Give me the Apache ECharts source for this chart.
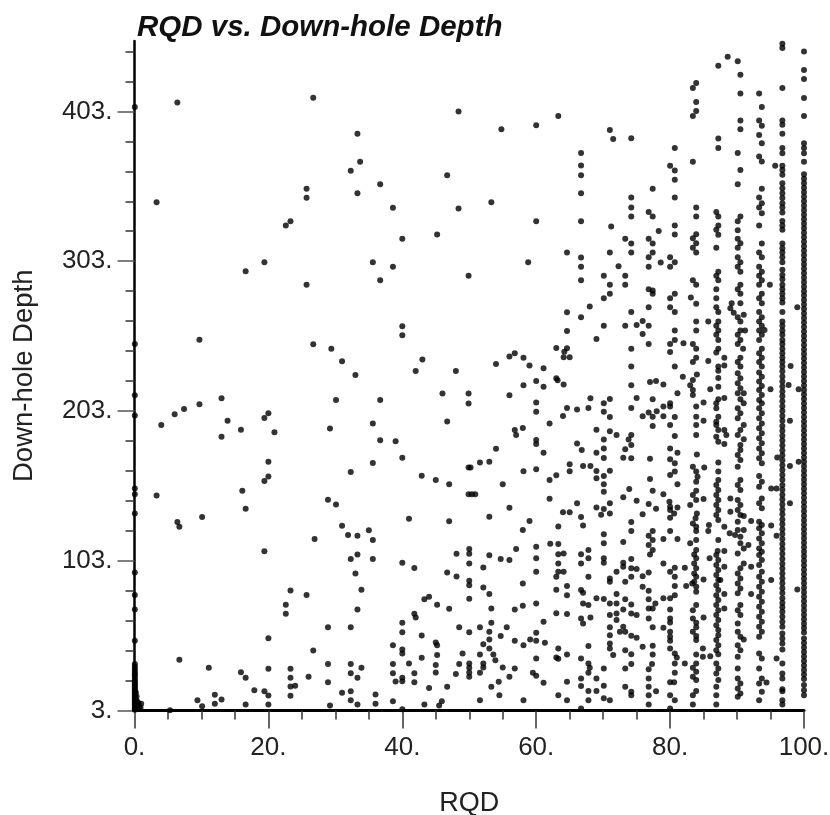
<!DOCTYPE html>
<html><head><meta charset="utf-8">
<style>html,body{margin:0;padding:0;background:#fff}#c{width:830px;height:815px}</style>
<script src="https://cdn.jsdelivr.net/npm/echarts@6/dist/echarts.min.js"></script>
</head><body><div id="c"></div>
<script>
var titleText = "RQD vs. Down-hole Depth";
var xName = "RQD";
var yName = "Down-hole Depth";
var xMajor = [0,20,40,60,80,100];
var xMinor = [5,10,15,25,30,35,45,50,55,65,70,75,85,90,95];
var yMajor = [3,103,203,303,403];
var yMinor = [23,43,63,83,123,143,163,183,223,243,263,283,323,343,363,383,423,443];

// Depths on the RQD = 100 column
var depth100 = [443,430.6,424.6,411.9,399.9,381.8,378.5,375.1,369.3,361,358,355,352,349,346,343,340,337,334,331,328,325,322,319,316,313,310,307,304,301,298,295,292,289,286,283,280,277,274,271,268,265,262,259,256,253,250,247,244,241,238,235,232,229,226,223,220,217,214,211,208,205,202,199,196,193,190,187,184,181,178,175,172,169,166,163,160,157,154,151,148,145,142,139,136,133,130,127,124,121,118,115,112,109,106,103,100,97,94,91,88,85,82,79,76,73,70,67,64,61,58,55,51,48,45,42,39,36,33,30,27,24,20,16.6,13.2];
// Depths on the RQD = 96.8 column
var depth97 = [448.2,445.3,418.6,397,394,388,378.5,375.1,366.7,363.8,360.7,355.1,351.7,348.4,345.1,341.7,338.8,335.5,329.9,326.8,323.9,314.8,311.7,308.8,305.6,302.3,297.2,293.8,291,287.2,284.3,281.2,278.3,275.4,269.1,262.7,259.8,256.7,253.8,250.4,247.7,244.6,241.5,238.6,235.7,232.6,229.5,226,222.7,219.4,216,212.8,209.5,206.2,203,199.6,196.4,193,189.8,186.5,183.2,180,176.6,173.4,170,166.8,163.5,160.2,157,153.6,150.4,147,143.8,140.5,137.2,134,130.6,127.4,124,120.8,117.5,114.2,111,107.6,104.4,101,97.8,94.5,91.2,88,84.6,81.4,78,74.8,72,68.9,65.6,62.2,58.9,54.4,51.1,47.8,43.8,34.4,27.7,24.4,17.2,15.8,9.9,7];
// Depths on the RQD = 93.5 column (two slightly offset ranks)
var depth93a = [415,397,387.2,372.9,345.5,338.8,326.8,308.8,299.2,293.2,287.2,278.3,269.1,262.7,256.7,250.4,241.5,235.7,228.6,222.6,217,210.3,204.8,198.1,191.4,184.7,178,171.4,159.6,152.4,141.3,129,124.6,117.9,111.2,106.8,100.1,92.3,85.6,78.9,72.3,65.6,58.9,52.2,41.1,31.1,21,9.9];
var depth93b = [405.9,393.4,381.8,369.6,351.3,341.7,335,314.8,305.6,296,290.3,281.2,274.9,265.6,259.8,253.8,244.6,238.6,232.6,225.9,219.7,213.7,208.1,201.4,194.7,188.1,181.4,174.7,168,155.8,144.6,138,126.8,121.3,114.6,109,103.4,95.6,89,82.3,75.6,68.9,62.2,55.6,37.7,24.4,15.5];
// Depths on the RQD = 90.3 column (two slightly offset ranks)
var depth90a = [436.4,375.3,354.4,329.7,323.7,317.9,311.9,305.6,299.2,284.3,265.6,253.8,247.7,235.7,228.1,221.5,214.8,204.8,198.1,187,173.6,165.8,153.5,143.5,136.8,129,123.5,107.9,94.5,87.8,81.2,70,61.1,55.6,46.6,38.9,31.1,24.4,17.7,12.1];
var depth90b = [427.5,415,397,391,363.8,332.8,315,302.3,296,287.2,281.2,274.9,262.7,256.7,250.4,238.6,232.6,224.8,218.1,210.8,201.4,190.3,180.3,176.9,170.2,156.9,150.2,140.2,133.5,119,114.6,97.9,91.2,84.5,73.4,66.7,52.2,43.3,21,14.4];
// Depths on the RQD = 87.1 column (two slightly offset ranks)
var depth87a = [433.5,384.9,378.5,332.8,326.8,320.6,296,290.3,269.1,262.7,256.7,250.4,244.6,232.6,229.8,225,219.2,210.8,199.2,190.3,182.5,168.5,162.5,156.9,150.2,143.5,136.8,130.2,116.8,103.4,96.8,90.1,83.4,76.7,70,63.4,56.7,53.3,46.6,40.6,31.1,23.3];
var depth87b = [335.9,323.9,311.9,293.2,284.3,278.3,272.2,259.8,253.8,242,208.1,204.8,195.8,193.6,185.8,153.5,146.9,140.2,133.5,106.8,100.1,93.4,86.7,80,73.4,66.7,60,50,43.3,34.4,27.7,18.8,13.2,7];
// Depths at RQD = 0
var depth0 = [406,247.7,213.5,199.9,151.3,147.3,134.6,95.2,80.1,70.5,49.5,34,32.4,30.8,29.4,28,27,26,24.5,23,22,21,20,19,18,17,16,15,14,13,12,11,10,9,8,7,6,5,4,3.5];

// Other points, [RQD, depth]
var lowRqd = [[0.6,7.5],[1,7.5],[0.7,4.5],[0.3,10],[0.4,6],[0.9,5],[0.5,8.5],[0.3,12.5],[0.2,15],[4,193.6],[6,200.8],[7.4,204.3],[9.7,207.4],[13,211.4],[13.9,196.5],[13,185.8],[15.9,190.5],[19.4,198.3],[20,201.4],[20.9,188.7],[20,169.1],[20,159.3],[19.4,156.2],[16.1,149.8],[16.6,137.7],[3.3,146.6],[6.4,128.8],[6.7,125.7],[10.1,132.2],[19.4,109.4],[23.3,83.2],[22.6,73.6],[22.6,67.6],[25.7,80.1],[20,51.3],[26.7,43.1],[6.7,36.9],[11.1,31.5],[15.9,28.6],[16.6,24.8],[20,30.8],[23.3,30.8],[23.3,24.8],[23.3,19],[24,19.5],[26,25.5],[17.9,16.6],[19.4,15.9],[20,13],[23.3,12.8],[9.4,9.9],[10.1,5.9],[12,13.5],[12,7.5],[13,10.3],[16.6,7],[20,7],[5.3,3.2],[6.4,409],[26.7,412.1],[3.3,342.4],[23.3,329.7],[22.6,326.8],[25.7,351.3],[25.7,345.3],[19.4,302.3],[16.6,296.3],[25.7,287.2],[9.7,250.6],[26.7,247.5],[26.9,117.5]];
var midRqd = [[28.9,143.7],[30.1,140.6],[31,126.4],[31.9,120.1],[33.3,119.7],[35,123.3],[35.6,116.8],[33.3,107.2],[32.3,104.1],[35.6,104.1],[33,94.5],[33.9,83.6],[33.3,70.5],[28.9,58.5],[32.3,58.5],[32.3,162.2],[35.6,168.2],[35.6,194.7],[29.2,191.2],[30.1,210.3],[36.7,210.3],[33,227],[36.7,183.4],[39,182.7],[40,171.8],[42.9,159.8],[45,156.9],[47,154],[42,229.7],[48,229.7],[46,214.6],[49.9,214.6],[49.9,207.9],[46.7,195.9],[49.9,165.3],[49.9,147.3],[41,131],[47,129.3],[50,110.8],[48.1,107.7],[50,107.7],[50,101.2],[40,101.7],[41.8,98.1],[46.7,95.2],[48.1,92.5],[50,89.6],[50,86.7],[50,77.6],[44,78.9],[43.3,77.2],[45.2,73.6],[47,70.9],[41.8,67.6],[42,65.1],[40,61.6],[40,55.3],[42.9,53.1],[48.5,58.5],[50,55.3],[45,48.4],[45.2,46.6],[38.6,46.6],[40,43.8],[40,41.1],[45.2,40],[49,41.1],[42.9,38.2],[41,34.4],[38.6,34],[45,33.3],[48.5,34],[50,34.4],[50,31.5],[50,28.4],[50,25.5],[28.9,34],[32.3,34],[33.9,31.5],[32.3,27.9],[33.3,24.8],[28.9,21.9],[38.6,27.9],[41.8,27.9],[45,28.4],[48,27.3],[39,22.4],[40,24.8],[40,22.6],[41.8,21.9],[44,18.1],[46.7,18.8],[31,14.8],[32.3,15.9],[36,13.7],[32.3,9.9],[33.3,7],[29.2,6.3],[36,7.5],[38.6,9.2],[40,3.9],[43.3,7],[45.9,9.2],[45.5,6.3],[33.3,388],[33.7,369.3],[32.3,363.3],[33.3,348.4],[36.7,354.4],[38.6,338.6],[48.4,403],[46.7,360.4],[48.4,338.2],[45.2,320.8],[40,317.9],[35.6,302.3],[38.6,299.2],[36.7,290.3],[49.9,293.2],[40,259.6],[40,253.5],[29.4,244.6],[31,236.2],[43,237.3]];
var upperRight = [[54.8,391],[60,393.8],[63.3,399.9],[53.3,342.4],[60,329.7],[58.8,302.3],[64.6,308.8],[66.7,375.3],[66.7,366.9],[66.7,360.4],[66.7,348.4],[66.7,329.7],[66.7,305.4],[66.7,299.2],[66.7,290.3],[66.7,265.6],[64.6,268.9],[64.6,256.4],[68,272.7],[69,251],[63,245],[64.6,244.9],[64.2,242.6],[64.1,238.8],[65,238.8],[56.8,241.5],[56,239.3],[58.1,238.6],[59,233.3],[61.1,231.5],[54,234.4],[71,390.5],[71.5,384.5],[74.2,385.1],[74.2,345.5],[74.2,338.8],[74.2,332.8],[77.4,351.3],[76.8,335.9],[77.4,332.8],[71.2,326.1],[78.3,323.2],[73.3,317.9],[74.2,314.8],[74.2,308.8],[71,308.8],[76.8,317.9],[77.4,314.8],[77.4,308.8],[76.8,305.6],[76.8,299.2],[78.6,302.1],[80,305.6],[80.7,302.3],[80,299.2],[72.3,299.6],[70.1,293.2],[73.3,293.2],[71,287.2],[73.3,287.2],[71,281.2],[70.1,278.3],[76.8,284.3],[77.4,283.4],[77.4,281.2],[76.8,272.2],[74.2,269.1],[70.1,259.8],[73.3,259.8],[75,260.4],[75.9,263.1],[76.8,259.8],[75.9,254.4],[76.8,247.7],[74.2,244.6],[74.2,232.6],[80.7,378.5],[80.7,363.5],[80.7,357.3],[80.7,345.5],[80.7,326.8],[80.7,320.8],[80.7,281.2],[80.7,269.1],[80.7,256.7],[80.7,250.4],[80.7,232.6],[80,366.7],[80,278.3],[80,272.2],[80,247.7],[80,242.4],[82,248.2]];
var col84 = [[83.9,421.9],[83.4,418.6],[83.9,409.2],[83.9,403.2],[83.4,400],[83.4,369.3],[83.9,338.8],[83.9,332.8],[83.9,321],[83.4,318.3],[83.9,315],[83.4,311.9],[83.9,308.8],[83.4,290.3],[83.9,287.2],[83.1,278.7],[83.9,274.5],[83.9,262.7],[83.9,256.7],[83.4,247.7],[83.9,244.6],[83.9,238.6],[83.4,235.7],[83.4,165.8],[83.9,162.5],[84.1,159.1],[83.9,155.8],[85.1,165.3],[83.9,149.8],[83.4,146.9],[83.9,143.5],[85,144.2],[83,140.2],[84,134.6],[83.8,131.3],[83.4,127.9],[83.9,125.7],[83.9,122.8],[83,114.6],[83.9,116.8],[83.9,110.1],[83.6,107.2],[83.9,104.6],[83.6,101.2],[83.9,97.9],[83.6,94.5],[83.9,92.3],[83.6,89],[83.3,87.8],[83.9,85.6],[85,90.5],[83.9,82.3],[83.9,73.4],[83.4,70],[83.4,64.5],[83.9,61.6],[83.9,58.5],[83.4,55.6],[83.9,52.7],[83.9,50],[85,65.1],[83.9,40.4],[84.9,44.4],[84.9,38.9],[86,39.3],[83.9,34.4],[83.4,31.5],[83.9,28.8],[83.4,25.5],[83.9,23.3],[83.9,16.1],[83.4,13.2],[83.4,7],[83.9,205.9],[83.9,199.2],[83.9,193.6],[83.9,186.9],[85,208.6],[85,196.5],[84,174]];
var lowerRight = [[56,213.4],[58.1,220.1],[60,223],[61.1,219.2],[63,224.8],[63.2,223.5],[64.1,220.6],[60,208.6],[60,202.5],[64.6,205],[66.1,203.9],[64,199.6],[67.8,205],[68.1,211.4],[70.1,208.1],[71,211],[70.1,202.5],[71,199],[74.2,220.1],[74.2,205],[75,211.7],[62,194.7],[56.8,190.3],[57,187],[58,191.6],[60,183.6],[60,180.9],[61.1,175.1],[66.1,181.2],[66.8,176.9],[69,190.5],[71,189.4],[72,186.9],[70.1,184],[70.1,178],[69,175.1],[70.1,171.6],[74.2,186.9],[73.8,184],[74.2,180.3],[73.3,177.4],[73,171.8],[74.2,171.4],[54,177.8],[53,169.1],[51.6,168.5],[50.2,165.3],[58.1,162.7],[60,164],[62,156.9],[63,160],[65,167.4],[65,162.7],[67,166.2],[68.1,166.2],[69,162.9],[69,158],[70.1,159.6],[71,163.1],[70.1,154],[70.1,149.1],[55,154],[50.4,147.3],[50.9,147.3],[62,144.4],[56,138.4],[53,132.4],[59,129.5],[58,123.5],[66.1,141.3],[64,135.3],[65,135.3],[66.7,132.2],[67,126.6],[63.3,125.9],[69,138.6],[70.1,137.5],[69.7,133.7],[71,141.3],[71,134.6],[73,145.3],[73.9,150.9],[75,143],[76.8,140.9],[77.9,137.7],[75.9,134],[74.2,128.8],[74.2,122.8],[70.1,120.6],[70.1,114.6],[73,115.5],[77,171.1],[77,157.6],[77.4,149.8],[79,147.3],[80,160.2],[80.7,162.5],[81.1,154],[80,170.7],[80.7,168],[80,178],[81.1,175.1],[80.7,186.3],[80,193.6],[80.7,199],[80,208.1],[80,205.9],[79,205.9],[79,199.4],[78,202.8],[77.4,210.8],[77.4,199.2],[76.8,201.9],[75.9,199.4],[77.4,193],[77,222.4],[77.9,223],[79,220.6],[81.1,214.8],[81.9,225.9],[83,220.1],[84,227.3],[83.4,223.7],[83.4,217],[83.4,213.7],[79.9,142.4],[80,139.1],[80,136.8],[81.1,138.6],[80,131.7],[80.6,134.6],[80,122.8],[81.1,117.5],[79,117.5],[77.4,122.8],[76.8,119.7],[77.4,116.8],[76.8,113.5],[77.4,110.1],[77,107.2]];
var bottomRight = [[63.3,114.1],[62.1,114.4],[60,112.3],[60,104.6],[60,95.6],[57,110.8],[54.7,104.1],[56,103.4],[53,106.6],[52.1,98.5],[58,87.8],[63.3,107.4],[64.1,107.9],[63.3,101.2],[64.1,95.6],[63.3,95.6],[63,92.3],[63,83.6],[64.6,86.1],[64.6,80],[66.7,107.4],[67.8,110.1],[67.8,104.6],[66.7,101.2],[70.1,104.6],[70.1,101.7],[67.8,92.3],[66.7,83.4],[67,81.6],[69,78],[70.1,77.4],[71,91.2],[71,89],[72,95.6],[73,101.7],[73,99],[74.2,104.1],[74.2,97.9],[75,97.4],[73.3,89],[74.2,92.3],[75.9,92.7],[76.8,95.2],[75.9,85.6],[76.8,83],[79,101.2],[80,95.6],[80.7,98.3],[80.7,92.3],[82.2,98.3],[82.4,86.1],[80.7,86.1],[80.7,80],[80,78],[79,78],[76.8,77.2],[77.8,74.5],[77.4,71.1],[76.8,71.1],[76.8,64.5],[77.4,58.5],[79,58.2],[80,70.5],[80,64.5],[80,61.8],[80,55.6],[80,52.2],[80,49.5],[80,44.4],[80.7,41],[81,38.4],[80.7,34.4],[82.2,34.4],[80.7,28.2],[80,21.9],[80.6,21.9],[80,13.2],[80.7,9.9],[80,4.3],[72,80.7],[71,74.5],[72,74.5],[73.3,77.2],[73,70.5],[74.2,73.8],[74.2,67.8],[75,66.7],[71,66.7],[72,67.8],[72,63.4],[66.7,64.5],[67,61.1],[68.1,65.1],[67,74.5],[67.8,73.4],[63,68],[64.6,67.4],[60,74.5],[58,72.9],[56.8,70.5],[53.3,71.1],[53,80.7],[52.1,85.2],[61.1,62.2],[60,54.9],[55.6,58.5],[53.3,61.6],[51.6,58.5],[53,55.6],[54.7,52.7],[56.8,49.5],[59.1,50.4],[60,49.5],[61.3,48.2],[58.1,46.6],[53,50.4],[52.1,47.3],[53,44.4],[51.6,40.4],[53.6,40.4],[53.9,36.6],[52.1,34.4],[52.1,31.7],[55,31.7],[56.8,31.1],[51.6,28.2],[56,25.5],[54.4,22.2],[53.3,18.8],[54.5,13.2],[51.6,9.9],[58.1,9.9],[59.5,28.2],[60,26.2],[61.1,21.5],[60,37.7],[63.3,44.4],[64.6,40.4],[63,38.4],[63.3,37.5],[66.7,37.7],[67.8,46],[67.8,34.4],[68,31.5],[70.1,31],[67.8,28.2],[66.7,24.4],[66.7,19.3],[69,24.4],[70.1,19.5],[67.8,16.1],[69,16.1],[64.6,22.2],[63.3,13.2],[64.6,9.9],[67.8,9.9],[66.7,4.3],[70.1,11.2],[71,9.9],[73.3,18.8],[74.2,15.5],[74.2,13.2],[71,58.5],[71,53.3],[71,47.8],[71,44.4],[71.5,40],[73.3,43.3],[74.2,40.6],[74.2,34],[73.3,31],[73,58.9],[72.5,55.6],[73.3,55.6],[74.2,52.9],[75,51.5],[75.9,45.5],[77.4,46.2],[77.4,40.4],[77.3,34],[76.8,30.6],[76.8,24.4],[76.8,18.8],[76.8,13.2],[76.8,7],[77.9,15.9]];
var sideDots = [[88.6,439.5],[85.7,262.7],[85.7,236.4],[88.1,238.6],[88.1,233.3],[89.2,274.9],[89,271.6],[89.5,268.6],[91,267.2],[91.2,256.7],[90.9,244.6],[94.9,287.2],[95.7,366.7],[94.1,257.1],[99,272.2],[98,233],[86,217.5],[88.1,211.7],[88.1,190.3],[88.4,187],[88.1,181],[85.8,126.8],[85.7,122.8],[88.1,125.7],[87.1,109.5],[88.1,109.5],[85.9,104.6],[88.1,99],[88.1,80.7],[88.1,71.1],[87.5,90.1],[91,214.8],[91,208.1],[91,193.6],[91,184.1],[89,144.6],[89,135.7],[91,132.8],[92.1,129.5],[91,123.5],[88.9,121.3],[89.7,120.1],[91.7,113.5],[91,111.2],[91,101.2],[92.1,99],[92.1,80.7],[91,50.4],[95,217.5],[95.1,151.3],[95.9,151.3],[97.9,196.5],[97.7,220.4],[99.2,217.5],[96,172],[97.9,166.2],[99.2,169.1],[97.9,141.3],[95.1,126.6],[95.9,119.7],[95.1,90.1],[99,83.8],[95.9,37.7],[94.4,21.7]];

function col(x, depths){ return depths.map(function(d){ return [x, d]; }); }
var points = [].concat(
  col(0.05, depth0), lowRqd, midRqd, upperRight, lowerRight, bottomRight, col84, sideDots,
  col(86.9, depth87b), col(87.2, depth87a), col(90.1, depth90a), col(90.5, depth90b),
  col(93.3, depth93a), col(93.7, depth93b), col(96.77, depth97), col(100, depth100)
);

var FONT = "Liberation Sans, Arial, Helvetica, sans-serif";
var INK = "#222222";
var chart = echarts.init(document.getElementById("c"), null, {renderer:"canvas"});
chart.setOption({
  animation:false,
  backgroundColor:"#ffffff",
  title:{ text:titleText, left:132, top:8,
    textStyle:{ fontFamily:FONT, fontSize:29.5, fontWeight:"bold", fontStyle:"italic", color:"#111" } },
  grid:{ left:134.5, right:26, top:41, bottom:104.5, containLabel:false, outerBoundsMode:"none" },
  xAxis:[
    { type:"value", min:0, max:100, position:"bottom", name:xName, nameLocation:"middle", nameGap:80,
      nameTextStyle:{ fontFamily:FONT, fontSize:27, color:INK },
      axisLine:{ show:true, onZero:false, lineStyle:{ color:"#000", width:3 } },
      axisTick:{ show:true, customValues:xMajor, length:18, lineStyle:{ color:"#333", width:1.5 } },
      axisLabel:{ customValues:xMajor, margin:24, fontFamily:FONT, fontSize:26, color:INK,
        formatter:function(v){ return v+"."; } },
      splitLine:{ show:false } },
    { type:"value", min:0, max:100, position:"bottom",
      axisLine:{ show:false },
      axisTick:{ show:true, customValues:xMinor, length:9, lineStyle:{ color:"#333", width:1.5 } },
      axisLabel:{ show:false }, splitLine:{ show:false } }
  ],
  yAxis:[
    { type:"value", min:3, max:450, position:"left", name:yName, nameLocation:"middle", nameGap:96,
      nameTextStyle:{ fontFamily:FONT, fontSize:27.5, color:INK },
      axisLine:{ show:true, onZero:false, lineStyle:{ color:"#000", width:2.5 } },
      axisTick:{ show:true, customValues:yMajor, length:17, lineStyle:{ color:"#555", width:1.5 } },
      axisLabel:{ customValues:yMajor, margin:22, fontFamily:FONT, fontSize:26, color:INK, padding:[0,0,18,0],
        formatter:function(v){ return v+"."; } },
      splitLine:{ show:false } },
    { type:"value", min:3, max:450, position:"left",
      axisLine:{ show:false },
      axisTick:{ show:true, customValues:yMinor, length:9, lineStyle:{ color:"#333", width:1.5 } },
      axisLabel:{ show:false }, splitLine:{ show:false } }
  ],
  series:[{ type:"scatter", xAxisIndex:0, yAxisIndex:0, data:points, symbol:"circle", symbolSize:6,
    clip:false, itemStyle:{ color:"#000" } }]
});
</script></body></html>
